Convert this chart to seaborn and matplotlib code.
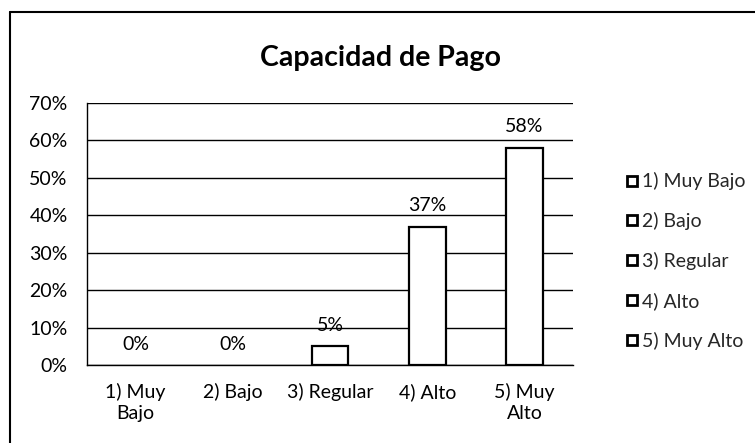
import matplotlib
matplotlib.use("Agg")
import matplotlib.pyplot as plt
import seaborn as sns
import pandas as pd
from matplotlib.lines import Line2D

categories = ["1) Muy Bajo", "2) Bajo", "3) Regular", "4) Alto", "5) Muy Alto"]
tick_labels = ["1) Muy\nBajo", "2) Bajo", "3) Regular", "4) Alto", "5) Muy\nAlto"]
values = [0, 0, 5, 37, 58]
yticks = [0, 10, 20, 30, 40, 50, 60, 70]

sns.set_theme(style="white")
plt.rcParams['font.family'] = ['Lato', 'DejaVu Sans']

df = pd.DataFrame({"cat": categories, "val": values})

fig = plt.figure(figsize=(7.55, 4.43), dpi=100)
W, H = 755, 443
ax = fig.add_axes([87 / W, 1 - 365 / H, (573 - 87) / W, (365 - 103) / H])

sns.barplot(data=df, x="cat", y="val", color="white", edgecolor="black",
            linewidth=1.6, width=0.38, ax=ax, zorder=3)
for p, v in zip(ax.patches, values):
    p.set_facecolor("white")
    if v == 0:
        p.set_linewidth(0)

FS = 14
ax.set_ylim(0, 70)
ax.set_yticks(yticks)
ax.set_yticklabels([f"{t}%" for t in yticks], fontsize=FS, color="black")
ax.set_xticks(range(len(categories)))
ax.set_xticklabels(tick_labels, fontsize=FS, color="black", linespacing=1.25)
ax.set_xlabel("")
ax.set_ylabel("")
ax.tick_params(axis="y", length=0, pad=14)
ax.tick_params(axis="x", length=0, pad=13)
ax.yaxis.grid(True, color="black", linewidth=1.0, zorder=0)
ax.set_axisbelow(True)
for s in ["top", "right"]:
    ax.spines[s].set_visible(False)
for s in ["left", "bottom"]:
    ax.spines[s].set_color("black")
    ax.spines[s].set_linewidth(1.0)

for c in ax.containers:
    ax.bar_label(c, labels=[f"{v:.0f}%" for v in values], padding=9,
                 fontsize=FS, color="black")

fig.suptitle("Capacidad de Pago", x=381 / W, y=1 - 45 / H,
             fontsize=20.5, fontweight="bold", color="black")

handles = [Line2D([0], [0], marker="s", linestyle="none", markersize=6.5,
                  markerfacecolor="white", markeredgecolor="black",
                  markeredgewidth=2.0, label=c) for c in categories]
fig.legend(handles=handles, loc="center left",
           bbox_to_anchor=(614 / W, 1 - 261 / H), frameon=False,
           fontsize=FS, labelspacing=1.12, handletextpad=0.05,
           handlelength=0.9, borderpad=0)

# outer chart border
fig.add_artist(Line2D([10 / W, 10 / W], [0, 1 - 12 / H], color="black",
                      linewidth=1.5, transform=fig.transFigure))
fig.add_artist(Line2D([10 / W, 1], [1 - 12 / H, 1 - 12 / H], color="black",
                      linewidth=1.5, transform=fig.transFigure))

fig.savefig("out.png", dpi=100)
